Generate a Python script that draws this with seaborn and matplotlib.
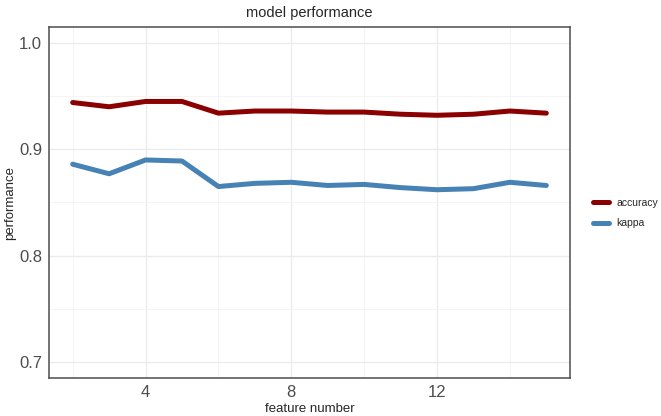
import numpy as np
import pandas as pd
import seaborn as sns
import matplotlib.pyplot as plt
from matplotlib.ticker import MultipleLocator

# data
features = [2, 3, 4, 5, 6, 7, 8, 9, 10, 11, 12, 13, 14, 15]
accuracy = [0.944, 0.940, 0.945, 0.945, 0.934, 0.936, 0.936, 0.935, 0.935, 0.933, 0.932, 0.933, 0.936, 0.934]
kappa = [0.886, 0.877, 0.890, 0.889, 0.865, 0.868, 0.869, 0.866, 0.867, 0.864, 0.862, 0.863, 0.869, 0.866]

df = pd.DataFrame({
    "feature number": features * 2,
    "performance": accuracy + kappa,
    "metric": ["accuracy"] * len(features) + ["kappa"] * len(features),
})

sns.set_style("white")
plt.rcParams["font.family"] = ["Liberation Sans", "DejaVu Sans"]

fig = plt.figure(figsize=(6.61, 4.16), dpi=100)
ax = fig.add_axes([49 / 661, 1 - 378 / 416, (570 - 49) / 661, (378 - 27) / 416])

sns.lineplot(data=df, x="feature number", y="performance", hue="metric",
             palette={"accuracy": "#8B0000", "kappa": "#4682B4"},
             linewidth=3.6, ax=ax)

ax.set_xlim(1.35, 15.65)
ax.set_ylim(0.685, 1.015)
ax.xaxis.set_major_locator(MultipleLocator(4))
ax.xaxis.set_minor_locator(MultipleLocator(2))
ax.yaxis.set_minor_locator(MultipleLocator(0.05))
ax.set_yticks([0.7, 0.8, 0.9, 1.0])
ax.set_yticklabels(["0.7", "0.8", "0.9", "1.0"])

ax.grid(which="major", color="#EBEBEB", linewidth=1.0)
ax.grid(which="minor", color="#F3F3F3", linewidth=0.6)
ax.set_axisbelow(True)
for s in ax.spines.values():
    s.set_color("#4D4D4D")
    s.set_linewidth(1.1)

ax.tick_params(axis="both", which="major", length=3, width=0.8, color="#4D4D4D",
               labelsize=12, labelcolor="#4D4D4D", pad=2)
ax.tick_params(axis="both", which="minor", length=0)

ax.set_xlabel("feature number", fontsize=9.5, labelpad=2)
ax.set_ylabel("performance", fontsize=9.5, labelpad=2)
ax.set_title("model performance", fontsize=10.5, pad=7)

leg = ax.legend(loc="center left", bbox_to_anchor=(1.027, 0.47), frameon=False,
                fontsize=7.5, handlelength=1.5, handletextpad=0.7,
                labelspacing=1.0, title=None)
for line in leg.get_lines():
    line.set_linewidth(3.6)

fig.savefig("out.png", dpi=100)
